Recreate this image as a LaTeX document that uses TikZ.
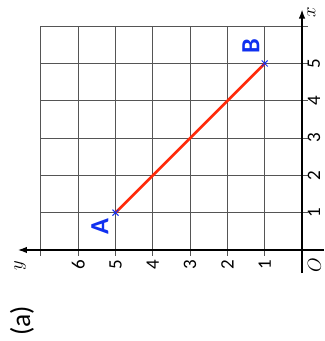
\documentclass[tikz,border=0pt]{standalone}
\usepackage{fontspec}
\setmainfont{Carlito}
\usetikzlibrary{arrows.meta}
\definecolor{gridcol}{HTML}{555555}
\definecolor{segred}{HTML}{FF2A0A}
\definecolor{ptblue}{HTML}{1030F0}

\begin{document}
\begin{tikzpicture}[
    every node/.style={font=\fontsize{15}{17}\selectfont},
    gridline/.style={gridcol, line width=0.85pt},
    axis/.style={-{Latex[length=7pt, width=5pt]}, line width=1.2pt, black},
    ticklab/.style={font=\fontsize{14.5}{16}\selectfont, inner sep=0pt},
    ptlab/.style={font=\fontsize{20}{22}\selectfont\bfseries, text=ptblue, inner sep=0pt},
    cross/.style={ptblue, line width=0.8pt},
    seg/.style={segred, line width=2pt},
]
\useasboundingbox (-8.097, -2.440) rectangle (0.590, 6.702);

% the whole figure is turned a quarter turn
\begin{scope}[rotate=90, transform shape]
% grid
\foreach \i in {1,...,6}{
    \draw[gridline] (\i, -0.15) -- (\i, 7);
}
\foreach \j in {1,...,7}{
    \draw[gridline] (-0.15, \j) -- (6, \j);
}

% axes
\coordinate (xstart) at (-0.62, 0);
\coordinate (xend) at (6.45, 0);
\coordinate (ystart) at (0, -0.58);
\coordinate (yend) at (0, 7.62);
\draw[axis] (xstart) -- (xend);
\draw[axis] (ystart) -- (yend);
\node (xlab) at (6.38, -0.25) {$x$};
\node (ylab) at (-0.42, 7.56) {$y$};
\node (olab) at (-0.40, -0.33) {$O$};

\foreach \i in {1,...,5}{
    \node[ticklab] (xt\i) at (\i, -0.32) {\i};
}
\foreach \j in {1,...,6}{
    \node[ticklab] (yt\j) at (-0.40, \j) {\j};
}

% segment AB
\coordinate (A) at (1, 5);
\coordinate (B) at (5, 1);
\draw[seg] (A) -- (B);
\foreach \p in {A, B}{
    \draw[cross] (\p) +(-0.08, -0.08) -- +(0.08, 0.08)
                 (\p) +(-0.08, 0.08) -- +(0.08, -0.08);
}
\node[ptlab] (alab) at (0.64, 5.42) {A};
\node[ptlab] (blab) at (5.47, 1.37) {B};

\node[font=\fontsize{21}{23}\selectfont] (cap) at (-1.90, 7.51) {(a)};
\end{scope}
\end{tikzpicture}
\end{document}
